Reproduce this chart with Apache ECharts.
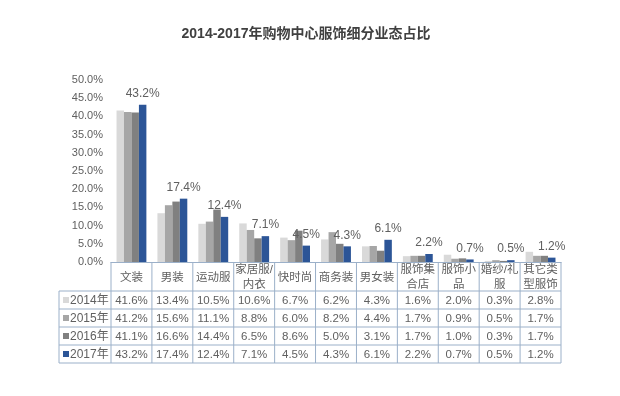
<!DOCTYPE html>
<html><head><meta charset="utf-8">
<script src="https://cdn.jsdelivr.net/npm/echarts@6/dist/echarts.min.js"></script>
<style>html,body{margin:0;padding:0;background:#fff}#c{width:620px;height:396px}</style>
</head><body><div id="c"></div>
<script>
const titleText = '2014-2017年购物中心服饰细分业态占比';
const categories = ['文装','男装','运动服','家居服/\n内衣','快时尚','商务装','男女装','服饰集\n合店','服饰小\n品','婚纱/礼\n服','其它类\n型服饰'];
const years = ['2014年','2015年','2016年','2017年'];
const v2014 = [41.6,13.4,10.5,10.6,6.7,6.2,4.3,1.6,2.0,0.3,2.8];
const v2015 = [41.2,15.6,11.1,8.8,6.0,8.2,4.4,1.7,0.9,0.5,1.7];
const v2016 = [41.1,16.6,14.4,6.5,8.6,5.0,3.1,1.7,1.0,0.3,1.7];
const v2017 = [43.2,17.4,12.4,7.1,4.5,4.3,6.1,2.2,0.7,0.5,1.2];
const yTicks = [0,5,10,15,20,25,30,35,40,45,50];

const seriesValues = [v2014, v2015, v2016, v2017];
const colors = ['#d9d9d9','#a6a6a6','#808080','#2c5597'];
const FONT = "'Liberation Sans','Noto Sans CJK SC',sans-serif";
const textColor = '#606060';
const lineColor = '#9bb0c9';

const chart = echarts.init(document.getElementById('c'), null, {renderer:'canvas'});
const option = {
  animation: false,
  title: {text: titleText, left: 301, top: 22, textAlign: 'center',
    textStyle: {fontSize: 14, fontWeight: 'bold', color: '#404040', fontFamily: FONT}},
  grid: {left: 111, right: 59, top: 80, bottom: 134},
  xAxis: {type: 'category', data: categories,
    axisLine: {show: true, lineStyle: {color: lineColor}},
    axisTick: {show: false}, axisLabel: {show: false}, splitLine: {show: false}},
  yAxis: {type: 'value', min: yTicks[0], max: yTicks[yTicks.length-1], interval: yTicks[1]-yTicks[0],
    axisLine: {show: false}, axisTick: {show: false}, splitLine: {show: false},
    axisLabel: {formatter: v => v.toFixed(1) + '%', color: textColor, fontSize: 11, fontFamily: FONT, margin: 8}},
  series: seriesValues.map((vals, i) => ({
    name: years[i], type: 'bar', data: vals, barGap: '0%', barCategoryGap: '27%',
    itemStyle: {color: colors[i]},
    label: {show: i === 3, position: 'top', distance: 5, formatter: p => p.value.toFixed(1) + '%',
      color: textColor, fontSize: 12, fontFamily: FONT}
  }))
};
chart.setOption(option);

// data table drawn from the same arrays, positioned via the axes
const x0 = chart.convertToPixel({xAxisIndex: 0}, 0);
const x1 = chart.convertToPixel({xAxisIndex: 0}, 1);
const colW = x1 - x0;
const axisY = chart.convertToPixel({yAxisIndex: 0}, 0);
const tableLeft = x0 - colW/2;
const tableRight = chart.convertToPixel({xAxisIndex: 0}, categories.length - 1) + colW/2;
const headerH = 29, rowH = 18, labelColW = 52;
const els = [];
const ln = (xa, ya, xb, yb) => els.push({type: 'line', silent: true,
  shape: {x1: xa, y1: ya, x2: xb, y2: yb}, style: {stroke: lineColor, lineWidth: 1}});
const rowsTop = axisY + headerH;
const tableBottom = rowsTop + rowH * years.length;
for (let r = 0; r <= years.length; r++) ln(tableLeft - labelColW, rowsTop + r*rowH, tableRight, rowsTop + r*rowH);
for (let c = 0; c <= categories.length; c++) {
  const x = tableLeft + c*colW;
  ln(x, axisY, x, tableBottom);
}
ln(tableLeft - labelColW, rowsTop, tableLeft - labelColW, tableBottom);
categories.forEach((cat, c) => {
  els.push({type: 'text', silent: true, style: {text: cat, x: x0 + c*colW, y: axisY + headerH/2 + 1,
    align: 'center', verticalAlign: 'middle', fill: textColor, fontSize: 11.5, fontFamily: FONT, lineHeight: 15}});
});
years.forEach((yr, r) => {
  const cy = rowsTop + r*rowH + rowH/2;
  els.push({type: 'rect', silent: true, shape: {x: tableLeft - labelColW + 4, y: cy - 3, width: 6, height: 6},
    style: {fill: colors[r]}});
  els.push({type: 'text', silent: true, style: {text: yr, x: tableLeft - labelColW + 11, y: cy + 0.5,
    align: 'left', verticalAlign: 'middle', fill: textColor, fontSize: 12, fontFamily: FONT}});
  seriesValues[r].forEach((v, c) => {
    els.push({type: 'text', silent: true, style: {text: v.toFixed(1) + '%', x: x0 + c*colW, y: cy + 0.5,
      align: 'center', verticalAlign: 'middle', fill: textColor, fontSize: 11.5, fontFamily: FONT}});
  });
});
chart.setOption({graphic: {elements: els}});
</script></body></html>
